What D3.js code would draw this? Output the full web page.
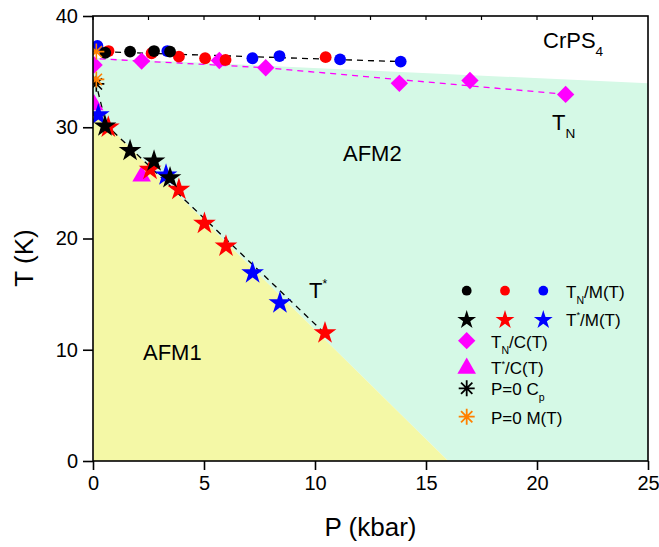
<!DOCTYPE html>
<html>
<head>
<meta charset="utf-8">
<script src="https://cdn.jsdelivr.net/npm/d3@7/dist/d3.min.js"></script>
<style>
    body { margin: 0; background: #fff; }
    svg text { font-family: "Liberation Sans", Arial, Helvetica, sans-serif; fill: #000; }
</style>
</head>
<body>
<svg id="chart" width="659" height="547"></svg>
<script>
    'use strict';

    // T_N from M(T), three sample runs
    var tnBlack = [[0.55, 36.7], [1.67, 36.8], [2.75, 36.85], [3.47, 36.8]];
    var tnRed = [[0.7, 36.85], [2.64, 36.65], [3.87, 36.35], [5.05, 36.2], [5.97, 36.05], [10.48, 36.3]];
    var tnBlue = [[0.2, 37.3], [3.35, 36.85], [7.18, 36.2], [8.4, 36.4], [11.13, 36.1], [13.86, 35.9]];
    // T* from M(T)
    var tsBlack = [[0.54, 30.1], [1.67, 27.9], [2.75, 26.95], [3.47, 25.45]];
    var tsRed = [[0.69, 30.0], [2.57, 26.2], [3.87, 24.4], [5.02, 21.35], [5.99, 19.3], [10.45, 11.5]];
    var tsBlue = [[0.24, 31.1], [3.29, 25.7], [7.19, 16.9], [8.42, 14.2]];
    // from C(T)
    var tnC = [[0.05, 35.6], [2.19, 35.95], [5.69, 36.0], [7.78, 35.35], [13.8, 33.95], [16.98, 34.2], [21.29, 32.95]];
    var tsC = [[0.05, 32.0], [2.19, 25.6]];
    // P = 0 references
    var cp0 = [[0.15, 33.9]];
    var m0 = [[0.15, 36.8], [0.15, 34.3]];

    // guide lines
    var tnLineM = [[0.5, 36.78], [13.86, 35.9]];
    var tnLineC = [[0.3, 36.15], [7.78, 35.35], [21.29, 32.96]];
    var tsLine = [[0.1, 34.2], [0.6, 30.2], [10.45, 11.45]];

    // phase regions
    var afm2Top = [[0, 36.25], [25, 33.95]];
    var afm1Edge = [[0, 31.45], [16, 0]];

    var xTicks = [0, 5, 10, 15, 20, 25];
    var xMinorTicks = [0, 2.5, 5, 7.5, 10, 12.5, 15, 17.5, 20, 22.5];
    var yTicks = [0, 10, 20, 30, 40];

    var FONT_TICK = 20;
    var FONT_TITLE = 26;
    var FONT_LABEL = 22;
    var FONT_LEGEND = 17;

    var margin = {left: 93, top: 16, right: 11, bottom: 86};
    var svg = d3.select('#chart');
    var width = 659 - margin.left - margin.right;
    var height = 547 - margin.top - margin.bottom;

    var x = d3.scaleLinear().domain([0, 25]).range([0, width]);
    var y = d3.scaleLinear().domain([0, 40]).range([height, 0]);

    var plot = svg.append('g').attr('transform', 'translate(' + margin.left + ',' + margin.top + ')');

    svg.append('defs').append('clipPath').attr('id', 'clip')
        .append('rect').attr('width', width).attr('height', height);

    var inner = plot.append('g').attr('clip-path', 'url(#clip)');

    function px(d) { return x(d[0]); }
    function py(d) { return y(d[1]); }

    function asteriskPath(r) {
        var p = '';
        [0, 45, 90, 135].forEach(function (a) {
            var t = a * Math.PI / 180;
            var dx = r * Math.cos(t), dy = r * Math.sin(t);
            p += 'M' + (-dx) + ',' + (-dy) + 'L' + dx + ',' + dy;
        });
        return p;
    }

    function drawRegions() {
        var green = [[0, afm2Top[0][1]], afm2Top[1], [25, 0], afm1Edge[1], afm1Edge[0]];
        var yellow = [[0, 0], afm1Edge[0], afm1Edge[1]];
        inner.append('path')
            .attr('d', d3.line().x(px).y(py)(green) + 'Z')
            .attr('fill', '#d5f9e6');
        inner.append('path')
            .attr('d', d3.line().x(px).y(py)(yellow) + 'Z')
            .attr('fill', '#f4f8a6');
    }

    function drawLine(data, color) {
        inner.append('path')
            .attr('d', d3.line().x(px).y(py)(data))
            .attr('fill', 'none')
            .attr('stroke', color)
            .attr('stroke-width', 1.3)
            .attr('stroke-dasharray', '6,5');
    }

    function drawMarks(g, data, symbolType, size, color, rotate) {
        g.selectAll(null).data(data).enter()
            .append('path')
            .attr('d', d3.symbol().type(symbolType).size(size)())
            .attr('transform', function (d) {
                return 'translate(' + px(d) + ',' + py(d) + ')' + (rotate ? ' rotate(' + rotate + ')' : '');
            })
            .attr('fill', color);
    }

    function drawAsterisks(g, data, r, color) {
        g.selectAll(null).data(data).enter()
            .append('path')
            .attr('d', asteriskPath(r))
            .attr('transform', function (d) {
                return 'translate(' + px(d) + ',' + py(d) + ')';
            })
            .attr('fill', 'none')
            .attr('stroke', color)
            .attr('stroke-width', 1.6);
    }

    function drawAxes() {
        var g = plot.append('g');
        // frame
        g.append('rect')
            .attr('width', width).attr('height', height)
            .attr('fill', 'none').attr('stroke', '#000').attr('stroke-width', 1.6);

        var xAxis = g.append('g').attr('transform', 'translate(0,' + height + ')')
            .call(d3.axisBottom(x).tickValues(xTicks).tickSize(9).tickPadding(6).tickFormat(d3.format('d')));
        xAxis.select('.domain').remove();
        xAxis.selectAll('line').attr('stroke-width', 1.6);
        xAxis.selectAll('text').style('font-size', FONT_TICK + 'px');

        var yAxis = g.append('g')
            .call(d3.axisLeft(y).tickValues(yTicks).tickSize(10).tickPadding(5).tickFormat(d3.format('d')));
        yAxis.select('.domain').remove();
        yAxis.selectAll('line').attr('stroke-width', 1.6);
        yAxis.selectAll('text').style('font-size', FONT_TICK + 'px');

        // short inner ticks on top edge
        g.selectAll(null).data(xMinorTicks).enter()
            .append('line')
            .attr('x1', x).attr('x2', x)
            .attr('y1', 0).attr('y2', 4)
            .attr('stroke', '#000').attr('stroke-width', 1.2);

        svg.append('text')
            .attr('x', margin.left + width / 2).attr('y', 536)
            .attr('text-anchor', 'middle')
            .style('font-size', FONT_TITLE + 'px')
            .text('P (kbar)');

        svg.append('text')
            .attr('transform', 'translate(33,258) rotate(-90)')
            .attr('text-anchor', 'middle')
            .style('font-size', FONT_TITLE + 'px')
            .text('T (K)');
    }

    function subText(g, xPos, yPos, size, parts) {
        var t = g.append('text').attr('x', xPos).attr('y', yPos).style('font-size', size + 'px');
        var shift = 0;
        parts.forEach(function (p) {
            var dy = 0;
            var fs = size;
            if (p.sub) { dy = size * 0.35; fs = size * 0.62; }
            if (p.sup) { dy = -size * 0.45; fs = size * 0.55; }
            t.append('tspan')
                .attr('dy', dy - shift)
                .style('font-size', fs + 'px')
                .text(p.t);
            shift = dy;
        });
        return t;
    }

    function drawLabels() {
        subText(svg, 543, 48, FONT_LABEL, [{t: 'CrPS'}, {t: '4', sub: true}]);
        subText(svg, 552, 130, FONT_LABEL, [{t: 'T'}, {t: 'N', sub: true}]);
        subText(svg, 309, 298, FONT_LABEL, [{t: 'T'}, {t: '*', sup: true}]);
        subText(svg, 343, 161, FONT_LABEL, [{t: 'AFM2'}]);
        subText(svg, 143, 360, FONT_LABEL, [{t: 'AFM1'}]);
    }

    function drawLegend() {
        var g = svg.append('g');
        var cx = [466.7, 505, 543.3];
        var rows = [290.7, 320, 340.7, 367.3, 388.3, 416.7];

        function mark(type, size, color, xp, yp, rot) {
            g.append('path')
                .attr('d', d3.symbol().type(type).size(size)())
                .attr('transform', 'translate(' + xp + ',' + yp + ')' + (rot ? ' rotate(' + rot + ')' : ''))
                .attr('fill', color);
        }

        ['#000', '#ff0000', '#0000ff'].forEach(function (c, i) {
            mark(d3.symbolCircle, 75, c, cx[i], rows[0]);
            mark(d3.symbolStar, 110, c, cx[i], rows[1]);
        });
        mark(d3.symbolSquare, 150, '#ff00ff', cx[0], rows[2], 45);
        mark(d3.symbolTriangle, 150, '#ff00ff', cx[0], rows[3] + 1);
        g.append('path').attr('d', asteriskPath(8))
            .attr('transform', 'translate(' + cx[0] + ',' + rows[4] + ')')
            .attr('stroke', '#000').attr('stroke-width', 1.8).attr('fill', 'none');
        g.append('path').attr('d', asteriskPath(8))
            .attr('transform', 'translate(' + cx[0] + ',' + rows[5] + ')')
            .attr('stroke', '#ff8000').attr('stroke-width', 1.8).attr('fill', 'none');

        subText(g, 566, rows[0] + 7, FONT_LEGEND, [{t: 'T'}, {t: 'N', sub: true}, {t: '/M(T)'}]);
        subText(g, 566, rows[1] + 6, FONT_LEGEND, [{t: 'T'}, {t: '*', sup: true}, {t: '/M(T)'}]);
        subText(g, 491, rows[2] + 7, FONT_LEGEND, [{t: 'T'}, {t: 'N', sub: true}, {t: '/C(T)'}]);
        subText(g, 491, rows[3] + 7, FONT_LEGEND, [{t: 'T'}, {t: '*', sup: true}, {t: '/C(T)'}]);
        subText(g, 491, rows[4] + 7, FONT_LEGEND, [{t: 'P=0 C'}, {t: 'p', sub: true}]);
        subText(g, 491, rows[5] + 7, FONT_LEGEND, [{t: 'P=0 M(T)'}]);
    }

    drawRegions();
    drawLine(tnLineM, '#000');
    drawLine(tnLineC, '#ff00ff');
    drawLine(tsLine, '#000');

    drawMarks(inner, tnC, d3.symbolSquare, 150, '#ff00ff', 45);
    drawMarks(inner, tsC, d3.symbolTriangle, 150, '#ff00ff');
    drawMarks(inner, tnBlue, d3.symbolCircle, 110, '#0000ff');
    drawMarks(inner, tnRed, d3.symbolCircle, 110, '#ff0000');
    drawMarks(inner, tnBlack, d3.symbolCircle, 110, '#000');
    drawMarks(inner, tsBlue, d3.symbolStar, 160, '#0000ff');
    drawMarks(inner, tsRed, d3.symbolStar, 160, '#ff0000');
    drawMarks(inner, tsBlack, d3.symbolStar, 160, '#000');
    drawAsterisks(inner, cp0, 8, '#000');
    drawAsterisks(inner, m0, 8, '#ff8000');

    drawAxes();
    drawLabels();
    drawLegend();
</script>
</body>
</html>
